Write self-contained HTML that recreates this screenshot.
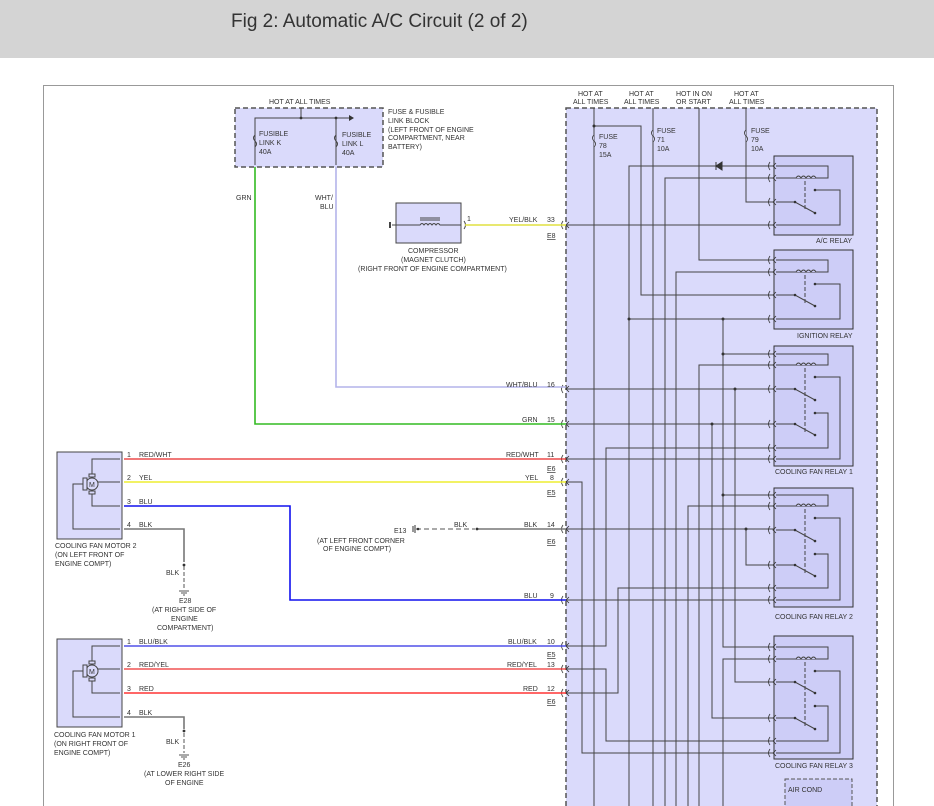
<!DOCTYPE html>
<html><head><meta charset="utf-8"><style>
html,body{margin:0;padding:0;background:#fff;}
body{width:934px;height:806px;overflow:hidden;position:relative;font-family:"Liberation Sans",sans-serif;}
#hdr{position:absolute;left:0;top:0;width:934px;height:58px;background:#d4d4d4;}
#hdr span{position:absolute;left:231px;top:11px;font-size:19px;color:#333;}
svg{position:absolute;left:0;top:0;}
text{font-family:"Liberation Sans",sans-serif;font-size:7px;fill:#333;}
</style></head><body>
<div id="hdr"><span>Fig 2: Automatic A/C Circuit (2 of 2)</span></div>
<svg width="934" height="806" viewBox="0 0 934 806">
<defs>
<g id="cn"><path d="M-3,-4 Q-6,0 -3,4" fill="none" stroke="#333" stroke-width="0.8"/><path d="M3,-3 L0,0 L3,3" fill="none" stroke="#333" stroke-width="0.8"/></g>
</defs>
<!-- frame -->
<path d="M43.5,806 V85.5 H893.5 V806" fill="none" stroke="#999" stroke-width="1"/>
<!-- right dashed block -->
<rect x="566" y="108" width="311" height="710" fill="#dadafb" stroke="#555" stroke-width="1.5" stroke-dasharray="5,3"/>
<!-- relay boxes -->
<g fill="#cdcdf7" stroke="#333" stroke-width="1">
<rect x="774" y="156" width="79" height="79"/>
<rect x="774" y="250" width="79" height="79"/>
<rect x="774" y="346" width="79" height="120"/>
<rect x="774" y="488" width="79" height="119"/>
<rect x="774" y="636" width="79" height="123"/>
</g>
<rect x="785" y="779" width="67" height="30" fill="#cdcdf7" stroke="#555" stroke-dasharray="4,2"/>
<text x="788" y="792">AIR COND</text>
<text x="816" y="243">A/C RELAY</text>
<text x="797" y="338">IGNITION RELAY</text>
<text x="775" y="474">COOLING FAN RELAY 1</text>
<text x="775" y="619">COOLING FAN RELAY 2</text>
<text x="775" y="768">COOLING FAN RELAY 3</text>
<!-- hot labels -->
<text x="578" y="96">HOT AT</text><text x="573" y="104">ALL TIMES</text>
<text x="629" y="96">HOT AT</text><text x="624" y="104">ALL TIMES</text>
<text x="676" y="96">HOT IN ON</text><text x="676" y="104">OR START</text>
<text x="734" y="96">HOT AT</text><text x="729" y="104">ALL TIMES</text>
<text x="599" y="139">FUSE</text><text x="599" y="148">78</text><text x="599" y="157">15A</text>
<text x="657" y="133">FUSE</text><text x="657" y="142">71</text><text x="657" y="151">10A</text>
<text x="751" y="133">FUSE</text><text x="751" y="142">79</text><text x="751" y="151">10A</text>
<!-- right wiring -->
<g fill="none" stroke="#444" stroke-width="1">
<path d="M594,108 V806"/><path d="M594,126 H641 V295 H774"/>
<path d="M653,108 V806"/>
<path d="M746,108 V202 H774"/>
<path d="M699,108 V260 H774"/>
<path d="M629,806 V166 H774"/>
<path d="M665,806 V178 H774"/>
<path d="M566,225 H774"/>
<path d="M676,806 V272 H774"/>
<path d="M629,319 H774"/>
<path d="M723,319 V647 H774"/>
<path d="M723,354 H774"/><path d="M723,495 H774"/>
<path d="M699,806 V365 H774"/>
<path d="M566,389 H774"/><path d="M735,389 V682 H774"/>
<path d="M566,424 H774"/><path d="M712,424 V718 H774"/>
<path d="M566,646 H606 V448 H774"/>
<path d="M566,459 H774"/>
<path d="M566,482 H582 V753 H774"/>
<path d="M688,806 V506 H774"/>
<path d="M566,529 H774"/><path d="M746,529 V565 H774"/>
<path d="M566,693 H618 V588 H774"/>
<path d="M566,600 H774"/>
<path d="M723,806 V659 H774"/>
<path d="M566,669 H606 V741 H774"/>
</g>
<path d="M716,162 V170 M716,166 L722,162 V170 Z" fill="#333" stroke="#333" stroke-width="1"/>
<g fill="#333">
<circle cx="594" cy="126" r="1.5"/><circle cx="629" cy="319" r="1.5"/><circle cx="723" cy="319" r="1.5"/>
<circle cx="723" cy="354" r="1.5"/><circle cx="723" cy="495" r="1.5"/><circle cx="735" cy="389" r="1.5"/>
<circle cx="712" cy="424" r="1.5"/><circle cx="746" cy="529" r="1.5"/>
</g>
<!-- fuses -->
<g fill="#dadafb" stroke="#444">
<path d="M594,135 q-3,3 0,6 q3,3 0,6" /><path d="M653,130 q-3,3 0,6 q3,3 0,6"/><path d="M746,130 q-3,3 0,6 q3,3 0,6"/>
</g>
<!-- relay connectors -->
<g>
<use href="#cn" x="773" y="166"/><use href="#cn" x="773" y="178"/><use href="#cn" x="773" y="202"/><use href="#cn" x="773" y="225"/>
<use href="#cn" x="773" y="260"/><use href="#cn" x="773" y="272"/><use href="#cn" x="773" y="295"/><use href="#cn" x="773" y="319"/>
<use href="#cn" x="773" y="354"/><use href="#cn" x="773" y="365"/><use href="#cn" x="773" y="389"/><use href="#cn" x="773" y="424"/><use href="#cn" x="773" y="448"/><use href="#cn" x="773" y="459"/>
<use href="#cn" x="773" y="495"/><use href="#cn" x="773" y="506"/><use href="#cn" x="773" y="530"/><use href="#cn" x="773" y="565"/><use href="#cn" x="773" y="588"/><use href="#cn" x="773" y="600"/>
<use href="#cn" x="773" y="647"/><use href="#cn" x="773" y="659"/><use href="#cn" x="773" y="682"/><use href="#cn" x="773" y="718"/><use href="#cn" x="773" y="741"/><use href="#cn" x="773" y="753"/>
<use href="#cn" x="566" y="225"/><use href="#cn" x="566" y="389"/><use href="#cn" x="566" y="424"/><use href="#cn" x="566" y="459"/><use href="#cn" x="566" y="482"/><use href="#cn" x="566" y="529"/><use href="#cn" x="566" y="600"/><use href="#cn" x="566" y="646"/><use href="#cn" x="566" y="669"/><use href="#cn" x="566" y="693"/>
</g>
<!-- relay internals -->
<g fill="none" stroke="#444" stroke-width="1">
<!-- A/C -->
<path d="M776,166 H828 V178 H776"/><path d="M776,202 H795 L815,213"/><path d="M815,190 H840 V225 H776"/><path d="M805,181 V210" stroke-dasharray="4,2"/>
<path d="M796,178 q2.5,-4 5,0 q2.5,-4 5,0 q2.5,-4 5,0 q2.5,-4 5,0" fill="#cdcdf7"/>
<!-- Ign -->
<path d="M776,260 H828 V272 H776"/><path d="M776,295 H795 L815,306"/><path d="M815,284 H840 V319 H776"/><path d="M805,275 V304" stroke-dasharray="4,2"/>
<path d="M796,272 q2.5,-4 5,0 q2.5,-4 5,0 q2.5,-4 5,0 q2.5,-4 5,0" fill="#cdcdf7"/>
<!-- CF1 -->
<path d="M776,354 H828 V365 H776"/><path d="M776,389 H795 L815,400"/><path d="M776,424 H795 L815,435"/><path d="M815,377 H840 V459 H776"/><path d="M815,413 H828 V448 H776"/><path d="M805,368 V434" stroke-dasharray="4,2"/>
<path d="M796,365 q2.5,-4 5,0 q2.5,-4 5,0 q2.5,-4 5,0 q2.5,-4 5,0" fill="#cdcdf7"/>
<!-- CF2 -->
<path d="M776,495 H828 V506 H776"/><path d="M776,530 H795 L815,541"/><path d="M776,565 H795 L815,576"/><path d="M815,518 H840 V600 H776"/><path d="M815,554 H828 V588 H776"/><path d="M805,509 V575" stroke-dasharray="4,2"/>
<path d="M796,506 q2.5,-4 5,0 q2.5,-4 5,0 q2.5,-4 5,0 q2.5,-4 5,0" fill="#cdcdf7"/>
<!-- CF3 -->
<path d="M776,647 H828 V659 H776"/><path d="M776,682 H795 L815,693"/><path d="M776,718 H795 L815,729"/><path d="M815,671 H840 V753 H776"/><path d="M815,706 H828 V741 H776"/><path d="M805,662 V728" stroke-dasharray="4,2"/>
<path d="M796,659 q2.5,-4 5,0 q2.5,-4 5,0 q2.5,-4 5,0 q2.5,-4 5,0" fill="#cdcdf7"/>
</g>
<g fill="#333">
<circle cx="815" cy="190" r="1.3"/><circle cx="795" cy="202" r="1.3"/><circle cx="815" cy="213" r="1.3"/>
<circle cx="815" cy="284" r="1.3"/><circle cx="795" cy="295" r="1.3"/><circle cx="815" cy="306" r="1.3"/>
<circle cx="815" cy="377" r="1.3"/><circle cx="795" cy="389" r="1.3"/><circle cx="815" cy="400" r="1.3"/><circle cx="815" cy="413" r="1.3"/><circle cx="795" cy="424" r="1.3"/><circle cx="815" cy="435" r="1.3"/>
<circle cx="815" cy="518" r="1.3"/><circle cx="795" cy="530" r="1.3"/><circle cx="815" cy="541" r="1.3"/><circle cx="815" cy="554" r="1.3"/><circle cx="795" cy="565" r="1.3"/><circle cx="815" cy="576" r="1.3"/>
<circle cx="815" cy="671" r="1.3"/><circle cx="795" cy="682" r="1.3"/><circle cx="815" cy="693" r="1.3"/><circle cx="815" cy="706" r="1.3"/><circle cx="795" cy="718" r="1.3"/><circle cx="815" cy="729" r="1.3"/>
</g>
<!-- fuse block -->
<rect x="235" y="108" width="148" height="59" fill="#dadafb" stroke="#555" stroke-width="1.5" stroke-dasharray="5,3"/>
<text x="269" y="104">HOT AT ALL TIMES</text>
<g fill="none" stroke="#444"><path d="M301,108 V118"/><path d="M255,165 V118 H349"/><path d="M336,118 V165"/><path d="M255,135 q-3,3 0,6 q3,3 0,6"/><path d="M336,135 q-3,3 0,6 q3,3 0,6"/></g>
<path d="M349,115 L354,118 L349,121 Z" fill="#333"/>
<circle cx="301" cy="118" r="1.4" fill="#333"/><circle cx="336" cy="118" r="1.4" fill="#333"/>
<text x="259" y="136">FUSIBLE</text><text x="259" y="145">LINK K</text><text x="259" y="154">40A</text>
<text x="342" y="137">FUSIBLE</text><text x="342" y="146">LINK L</text><text x="342" y="155">40A</text>
<text x="388" y="114">FUSE &amp; FUSIBLE</text><text x="388" y="123">LINK BLOCK</text><text x="388" y="132">(LEFT FRONT OF ENGINE</text><text x="388" y="140">COMPARTMENT, NEAR</text><text x="388" y="149">BATTERY)</text>
<path d="M255,167 V424 H566" fill="none" stroke="#33bb22" stroke-width="1.6"/>
<path d="M336,167 V387 H566" fill="none" stroke="#b4b4ea" stroke-width="1.6"/>
<text x="236" y="200">GRN</text><text x="315" y="200">WHT/</text><text x="320" y="209">BLU</text>
<text x="506" y="387">WHT/BLU</text><text x="547" y="387">16</text>
<text x="522" y="422">GRN</text><text x="547" y="422">15</text>
<!-- compressor -->
<rect x="396" y="203" width="65" height="40" fill="#dadafb" stroke="#444"/>
<path d="M392,225 H420 q2,-3 4,0 q2,-3 4,0 q2,-3 4,0 q2,-3 4,0 q2,-3 4,0 H461 M420,218 H440 M420,220 H440" fill="none" stroke="#444"/>
<path d="M390,222 V228" stroke="#444" stroke-width="2"/>
<path d="M464,221 q3,4 0,8" fill="none" stroke="#444"/>
<path d="M465,225 H566" stroke="#e0e040" stroke-width="1.6"/>
<text x="467" y="221">1</text><text x="509" y="222">YEL/BLK</text><text x="547" y="222">33</text><text x="547" y="238" text-decoration="underline">E8</text>
<text x="408" y="253">COMPRESSOR</text><text x="401" y="262">(MAGNET CLUTCH)</text><text x="358" y="271">(RIGHT FRONT OF ENGINE COMPARTMENT)</text>
<!-- motor 2 -->
<rect x="57" y="452" width="65" height="87" fill="#dadafb" stroke="#444"/>
<g fill="none" stroke="#444"><path d="M120,459 H92 V482 M92,482 H120 M92,482 V506 H120 M83,484 H73 V529 H120"/><circle cx="92" cy="484" r="6" fill="#dadafb"/><rect x="83" y="478" width="4" height="12" fill="#dadafb"/><rect x="89" y="474" width="6" height="3" fill="#dadafb"/><rect x="89" y="491" width="6" height="3" fill="#dadafb"/></g>
<text x="89" y="487">M</text>
<path d="M124,459 H566" stroke="#e82828" stroke-width="1.3"/>
<path d="M124,482 H566" stroke="#eeee30" stroke-width="1.6"/>
<path d="M124,506 H290 V600 H566" fill="none" stroke="#1111ee" stroke-width="1.6"/>
<path d="M124,529 H184 V562" fill="none" stroke="#777" stroke-width="1.6"/>
<path d="M184,566 V588" stroke="#555" stroke-dasharray="4,2"/><circle cx="184" cy="565" r="1.4" fill="#333"/>
<path d="M179,591 H189 M181,593 H187 M183,595 H185" stroke="#555"/>
<text x="127" y="457">1</text><text x="139" y="457">RED/WHT</text>
<text x="127" y="480">2</text><text x="139" y="480">YEL</text>
<text x="127" y="504">3</text><text x="139" y="504">BLU</text>
<text x="127" y="527">4</text><text x="139" y="527">BLK</text>
<text x="55" y="548">COOLING FAN MOTOR 2</text><text x="55" y="557">(ON LEFT FRONT OF</text><text x="55" y="566">ENGINE COMPT)</text>
<text x="166" y="575">BLK</text>
<text x="179" y="603">E28</text><text x="152" y="612">(AT RIGHT SIDE OF</text><text x="171" y="621">ENGINE</text><text x="157" y="630">COMPARTMENT)</text>
<text x="506" y="457">RED/WHT</text><text x="547" y="457">11</text><text x="547" y="471" text-decoration="underline">E6</text>
<text x="525" y="480">YEL</text><text x="550" y="480">8</text><text x="547" y="495" text-decoration="underline">E5</text>
<!-- E13 -->
<path d="M416,529 H475" stroke="#555" stroke-dasharray="5,3"/>
<path d="M477,529 H566" stroke="#777" stroke-width="1.6"/>
<path d="M413,526 V532 M415,525 V533" stroke="#333"/><circle cx="418" cy="529" r="1.3" fill="#333"/><circle cx="477" cy="529" r="1.4" fill="#333"/>
<text x="454" y="527">BLK</text><text x="524" y="527">BLK</text><text x="547" y="527">14</text><text x="547" y="544" text-decoration="underline">E6</text>
<text x="394" y="533">E13</text><text x="317" y="543">(AT LEFT FRONT CORNER</text><text x="323" y="551">OF ENGINE COMPT)</text>
<text x="524" y="598">BLU</text><text x="550" y="598">9</text>
<!-- motor 1 -->
<rect x="57" y="639" width="65" height="88" fill="#dadafb" stroke="#444"/>
<g fill="none" stroke="#444"><path d="M120,646 H92 V669 M92,669 H120 M92,669 V693 H120 M83,671 H73 V717 H120"/><circle cx="92" cy="671" r="6" fill="#dadafb"/><rect x="83" y="665" width="4" height="12" fill="#dadafb"/><rect x="89" y="661" width="6" height="3" fill="#dadafb"/><rect x="89" y="678" width="6" height="3" fill="#dadafb"/></g>
<text x="89" y="674">M</text>
<path d="M124,646 H566" stroke="#5050e8" stroke-width="1.6"/>
<path d="M124,669 H566" stroke="#ee3030" stroke-width="1.3"/>
<path d="M124,693 H566" stroke="#ff3535" stroke-width="1.6"/>
<path d="M124,717 H184 V729" fill="none" stroke="#777" stroke-width="1.6"/>
<path d="M184,733 V753" stroke="#555" stroke-dasharray="4,2"/><circle cx="184" cy="731" r="1.4" fill="#333"/>
<path d="M179,755 H189 M181,757 H187 M183,759 H185" stroke="#555"/>
<text x="127" y="644">1</text><text x="139" y="644">BLU/BLK</text>
<text x="127" y="667">2</text><text x="139" y="667">RED/YEL</text>
<text x="127" y="691">3</text><text x="139" y="691">RED</text>
<text x="127" y="715">4</text><text x="139" y="715">BLK</text>
<text x="54" y="737">COOLING FAN MOTOR 1</text><text x="54" y="746">(ON RIGHT FRONT OF</text><text x="54" y="755">ENGINE COMPT)</text>
<text x="166" y="744">BLK</text>
<text x="178" y="767">E26</text><text x="144" y="776">(AT LOWER RIGHT SIDE</text><text x="165" y="785">OF ENGINE</text>
<text x="508" y="644">BLU/BLK</text><text x="547" y="644">10</text><text x="547" y="657" text-decoration="underline">E5</text>
<text x="507" y="667">RED/YEL</text><text x="547" y="667">13</text>
<text x="523" y="691">RED</text><text x="547" y="691">12</text><text x="547" y="704" text-decoration="underline">E6</text>
</svg>
</body></html>
